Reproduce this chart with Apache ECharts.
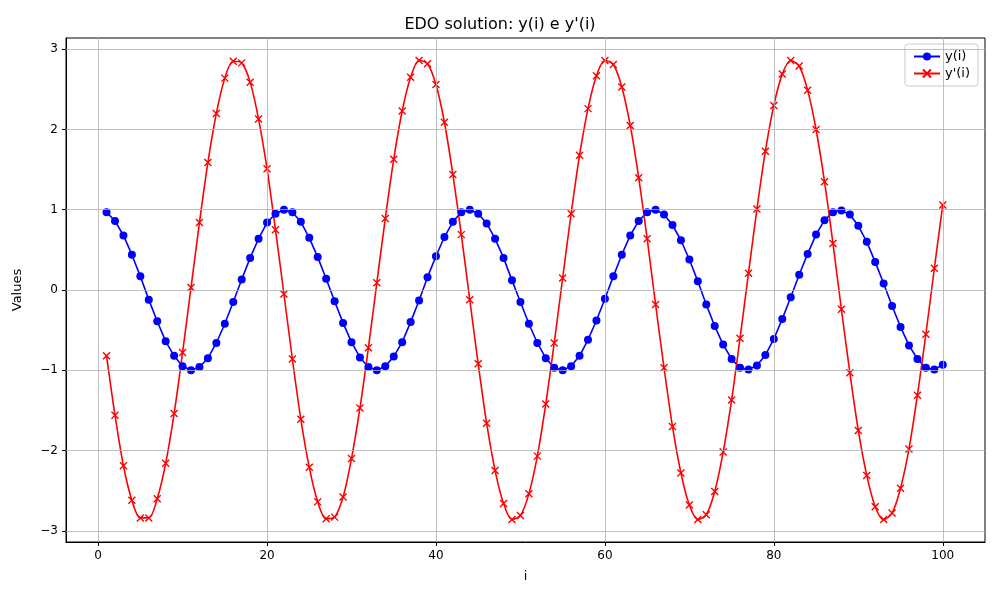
<!DOCTYPE html>
<html>
<head>
<meta charset="utf-8">
<script src="https://cdn.jsdelivr.net/npm/echarts@6/dist/echarts.min.js"></script>
<style>html,body{margin:0;padding:0;background:#fff}#chart{width:1000px;height:600px}</style>
</head>
<body>
<div id="chart"></div>
<script>
var yValues = [0.97,0.86,0.68,0.44,0.17,-0.12,-0.39,-0.64,-0.82,-0.95,
  -1.0,-0.96,-0.85,-0.66,-0.42,-0.15,0.13,0.40,0.64,0.84,
  0.95,1.0,0.97,0.85,0.65,0.41,0.14,-0.14,-0.41,-0.65,
  -0.84,-0.96,-1.0,-0.95,-0.83,-0.65,-0.40,-0.13,0.16,0.42,
  0.66,0.85,0.97,1.0,0.95,0.83,0.64,0.40,0.12,-0.15,
  -0.42,-0.66,-0.85,-0.97,-1.0,-0.95,-0.82,-0.62,-0.38,-0.11,
  0.17,0.44,0.68,0.86,0.97,1.0,0.94,0.81,0.62,0.38,
  0.11,-0.18,-0.45,-0.68,-0.86,-0.97,-0.99,-0.94,-0.81,-0.61,
  -0.36,-0.09,0.19,0.45,0.69,0.87,0.97,0.99,0.94,0.80,
  0.60,0.35,0.08,-0.20,-0.46,-0.69,-0.86,-0.97,-0.99,-0.93];
var dyValues = [-0.82,-1.56,-2.19,-2.62,-2.84,-2.84,-2.60,-2.16,-1.54,-0.78,
  0.03,0.84,1.59,2.20,2.64,2.85,2.83,2.59,2.13,1.51,
  0.75,-0.05,-0.86,-1.61,-2.21,-2.64,-2.85,-2.83,-2.58,-2.10,
  -1.47,-0.72,0.09,0.89,1.63,2.23,2.65,2.86,2.82,2.56,
  2.09,1.44,0.69,-0.12,-0.92,-1.66,-2.25,-2.66,-2.86,-2.81,
  -2.54,-2.07,-1.42,-0.66,0.15,0.95,1.68,2.26,2.67,2.86,
  2.81,2.53,2.05,1.40,0.64,-0.18,-0.97,-1.70,-2.28,-2.68,
  -2.86,-2.80,-2.51,-2.02,-1.37,-0.60,0.21,1.01,1.73,2.30,
  2.69,2.86,2.79,2.49,2.00,1.35,0.58,-0.24,-1.03,-1.75,
  -2.31,-2.70,-2.86,-2.78,-2.47,-1.98,-1.31,-0.55,0.27,1.06];
var xTicks = [0, 20, 40, 60, 80, 100];
var yTicks = [-3, -2, -1, 0, 1, 2, 3];

var chart = echarts.init(document.getElementById('chart'));
var font = 'DejaVu Sans';
var yData = yValues.map(function(v, i) { return [i + 1, v]; });
var dyData = dyValues.map(function(v, i) { return [i + 1, v]; });
var gridLines = xTicks.map(function(v) { return {xAxis: v}; })
  .concat(yTicks.map(function(v) { return {yAxis: v}; }));

chart.setOption({
  animation: false,
  textStyle: {fontFamily: font},
  title: {text: "EDO solution: y(i) e y'(i)", left: 'center', top: 12,
    textStyle: {fontSize: 16, fontWeight: 'normal', color: '#000', fontFamily: font}},
  legend: {
    right: 22, top: 44, orient: 'vertical', itemGap: 4,
    padding: [6, 8], borderColor: '#ccc', borderWidth: 1, borderRadius: 3,
    backgroundColor: '#fff', itemWidth: 26, itemHeight: 10,
    textStyle: {fontSize: 13, color: '#000'},
    data: ['y(i)', "y'(i)"]
  },
  grid: {left: 66, right: 15, top: 38, bottom: 58, show: true,
    borderColor: '#000', borderWidth: 1, backgroundColor: 'transparent'},
  xAxis: {
    type: 'value', min: -3.8, max: 105, name: 'i', nameLocation: 'middle', nameGap: 28,
    nameTextStyle: {fontSize: 13, color: '#000'},
    axisLine: {onZero: false, lineStyle: {color: '#000'}},
    axisTick: {customValues: xTicks, length: 4, lineStyle: {color: '#000'}},
    axisLabel: {customValues: xTicks, color: '#000', fontSize: 12},
    splitLine: {show: false}
  },
  yAxis: {
    type: 'value', min: -3.14, max: 3.14, name: 'Values', nameLocation: 'middle', nameGap: 42,
    nameTextStyle: {fontSize: 13, color: '#000'},
    axisLine: {show: true, onZero: false, lineStyle: {color: '#000'}},
    axisTick: {show: true, customValues: yTicks, length: 4, lineStyle: {color: '#000'}},
    axisLabel: {customValues: yTicks, color: '#000', fontSize: 12,
      formatter: function(v) { return String(v).replace('-', '\u2212'); }},
    splitLine: {show: false}
  },
  series: [
    {
      name: 'y(i)', type: 'line', data: yData, color: '#0000ff',
      symbol: 'circle', symbolSize: 8, lineStyle: {width: 1.6},
      markLine: {silent: true, symbol: 'none', label: {show: false},
        lineStyle: {color: '#b0b0b0', width: 0.8, type: 'solid'}, data: gridLines}
    },
    {
      name: "y'(i)", type: 'line', data: dyData, color: '#ff0000', smooth: 0.3,
      symbol: 'path://M0,0L10,10M10,0L0,10', symbolSize: 7, lineStyle: {width: 1.6},
      itemStyle: {borderColor: '#ff0000', borderWidth: 1.4}
    }
  ]
});
</script>
</body>
</html>
